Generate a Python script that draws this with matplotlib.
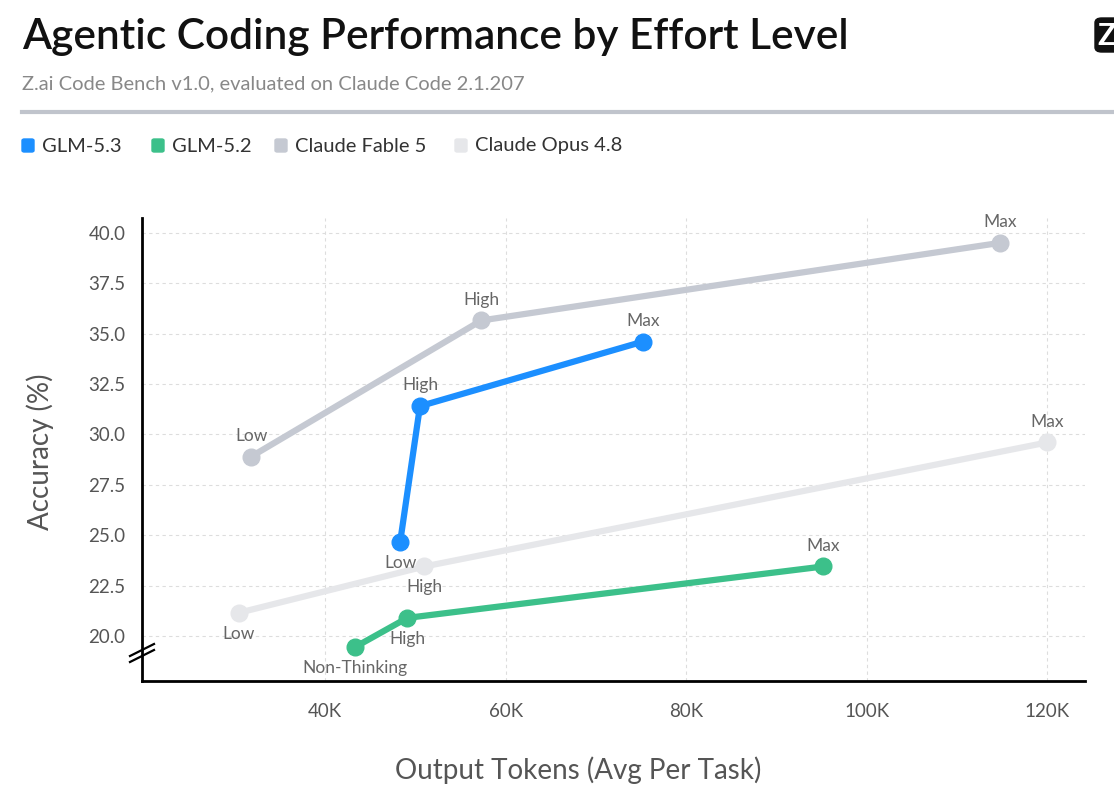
import matplotlib
matplotlib.use("Agg")
import matplotlib.pyplot as plt
from matplotlib.patches import FancyBboxPatch
from matplotlib.lines import Line2D
from matplotlib.ticker import FuncFormatter

plt.rcParams['font.family'] = ['Lato', 'DejaVu Sans']

# data
series_names = ["GLM-5.3", "GLM-5.2", "Claude Fable 5", "Claude Opus 4.8"]
series_colors = ["#1c8fff", "#3cc08a", "#c5c9d2", "#e6e7ea"]

glm53_tokens = [48300, 50500, 75200]
glm53_acc = [24.65, 31.4, 34.6]
glm53_labels = ["Low", "High", "Max"]

glm52_tokens = [43300, 49100, 95200]
glm52_acc = [19.45, 20.9, 23.45]
glm52_labels = ["Non-Thinking", "High", "Max"]

fable_tokens = [31800, 57300, 114800]
fable_acc = [28.9, 35.65, 39.5]
fable_labels = ["Low", "High", "Max"]

opus_tokens = [30400, 51000, 120000]
opus_acc = [21.15, 23.45, 29.6]
opus_labels = ["Low", "High", "Max"]

# where each point label goes: 1 = above, -1 = below
glm53_side = [-1, 1, 1]
glm52_side = [-1, -1, 1]
fable_side = [1, 1, 1]
opus_side = [-1, -1, 1]

x_ticks = [40000, 60000, 80000, 100000, 120000]
y_ticks = [20.0, 22.5, 25.0, 27.5, 30.0, 32.5, 35.0, 37.5, 40.0]

fig = plt.figure(figsize=(11.14, 7.85), dpi=100)
ax = fig.add_axes([0.1275, 0.1325, 0.8465, 0.59])

all_series = [
    (opus_tokens, opus_acc, opus_labels, opus_side),
    (fable_tokens, fable_acc, fable_labels, fable_side),
    (glm52_tokens, glm52_acc, glm52_labels, glm52_side),
    (glm53_tokens, glm53_acc, glm53_labels, glm53_side),
]
draw_colors = [series_colors[3], series_colors[2], series_colors[1], series_colors[0]]

for (xs, ys, labs, sides), col in zip(all_series, draw_colors):
    ax.plot(xs, ys, color=col, lw=4.5, marker='o', ms=12, solid_capstyle='round', zorder=3)
    for x, y, lab, s in zip(xs, ys, labs, sides):
        ax.annotate(lab, (x, y), xytext=(0, 15 * s), textcoords='offset points',
                    ha='center', va='center', fontsize=12.5, color='#666666', zorder=4)

ax.set_xlim(19700, 124200)
ax.set_ylim(17.77, 40.74)
ax.set_xticks(x_ticks)
ax.set_yticks(y_ticks)
ax.xaxis.set_major_formatter(FuncFormatter(lambda v, p: f"{int(v/1000)}K"))
ax.yaxis.set_major_formatter(FuncFormatter(lambda v, p: f"{v:.1f}"))
ax.tick_params(axis='both', length=0, labelsize=13.5, labelcolor='#555555')
ax.tick_params(axis='x', pad=16)
ax.tick_params(axis='y', pad=12)

ax.grid(True, ls=(0, (3, 3)), color='#dddddd', lw=0.8)
ax.set_axisbelow(True)
for s in ['top', 'right']:
    ax.spines[s].set_visible(False)
for s in ['left', 'bottom']:
    ax.spines[s].set_color('black')
    ax.spines[s].set_linewidth(2)

# axis break marks
for dy in [0, 6]:
    fig.add_artist(Line2D([130 / 1114, 154 / 1114], [1 - (662 - dy) / 785, 1 - (650 - dy) / 785],
                          color='black', lw=1.6, transform=fig.transFigure))

# axis titles
fig.text(578 / 1114, 1 - 770 / 785, "Output Tokens (Avg Per Task)", fontsize=20,
         color='#555555', ha='center', va='center')
fig.text(40 / 1114, 1 - 452 / 785, "Accuracy (%)", fontsize=20, color='#555555',
         ha='center', va='center', rotation=90)

# header
fig.text(22 / 1114, 1 - 37 / 785, "Agentic Coding Performance by Effort Level",
         fontsize=30.5, fontweight='semibold', color='#111111', va='center', ha='left')
fig.text(22 / 1114, 1 - 84 / 785, "Z.ai Code Bench v1.0, evaluated on Claude Code 2.1.207",
         fontsize=14.5, color='#888888', va='center', ha='left')
fig.add_artist(Line2D([22 / 1114, 1.0], [1 - 112 / 785, 1 - 112 / 785],
                      color='#c0c4cc', lw=3, transform=fig.transFigure))

# logo, cut by right edge
fig.add_artist(FancyBboxPatch((1095 / 1114, 1 - 52 / 785), 40 / 1114, 34 / 785,
                              boxstyle="round,pad=0,rounding_size=0.006",
                              transform=fig.transFigure, color='#111111'))
fig.text(1107 / 1114, 1 - 36 / 785, "Z", fontsize=22, fontweight='bold',
         color='white', ha='center', va='center')

# legend
lx = [22, 152, 275, 455]
for x0, name, col in zip(lx, series_names, series_colors):
    fig.add_artist(FancyBboxPatch((x0 / 1114, 1 - 152 / 785), 12 / 1114, 13 / 785,
                                  boxstyle="round,pad=0,rounding_size=0.002",
                                  transform=fig.transFigure, color=col))
    fig.text((x0 + 20) / 1114, 1 - 146 / 785, name, fontsize=14.5, color='#333333',
             va='center', ha='left')

fig.savefig("out.png", dpi=100, facecolor='white')
